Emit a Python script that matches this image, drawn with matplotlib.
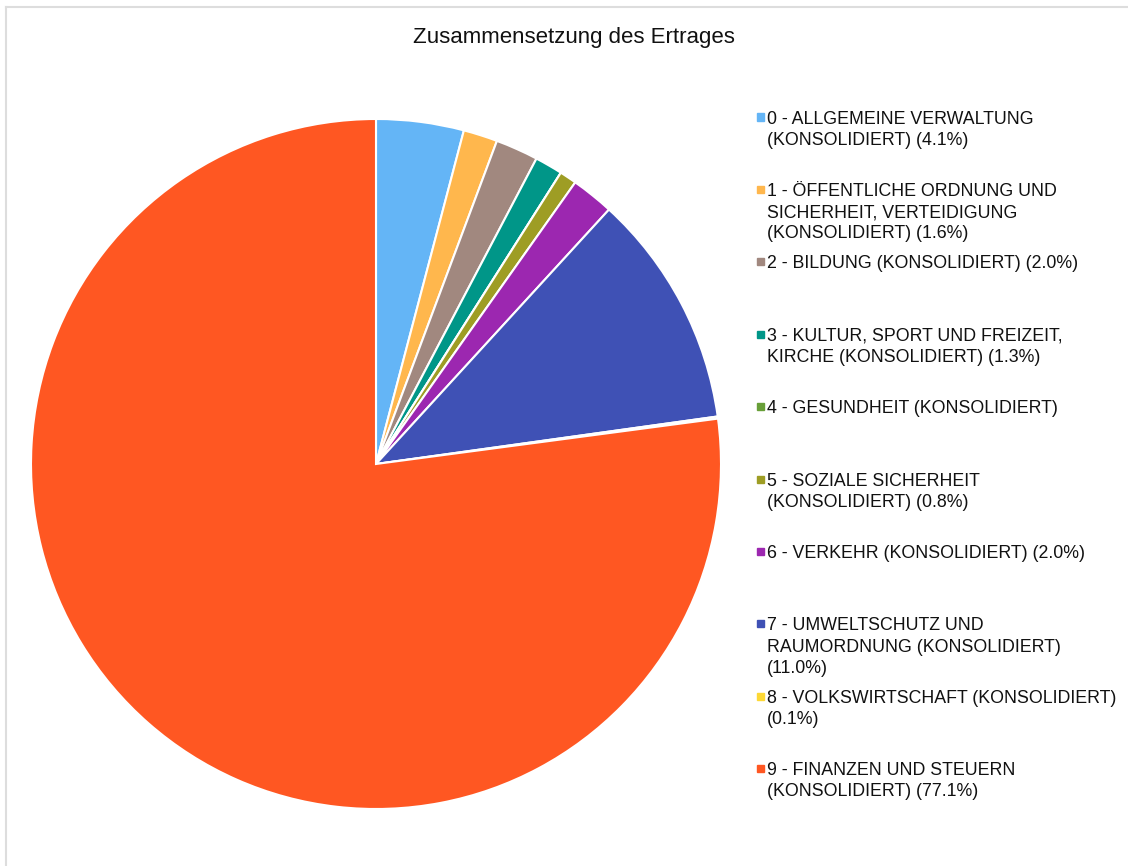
import matplotlib
matplotlib.use("Agg")
import matplotlib.pyplot as plt
from matplotlib.patches import Rectangle
from matplotlib.lines import Line2D

#----------------------------------------------------------------------
#                    Data
#----------------------------------------------------------------------
labels = ["0 - ALLGEMEINE VERWALTUNG\n(KONSOLIDIERT) (4.1%)",
          "1 - ÖFFENTLICHE ORDNUNG UND\nSICHERHEIT, VERTEIDIGUNG\n(KONSOLIDIERT) (1.6%)",
          "2 - BILDUNG (KONSOLIDIERT) (2.0%)",
          "3 - KULTUR, SPORT UND FREIZEIT,\nKIRCHE (KONSOLIDIERT) (1.3%)",
          "4 - GESUNDHEIT (KONSOLIDIERT)",
          "5 - SOZIALE SICHERHEIT\n(KONSOLIDIERT) (0.8%)",
          "6 - VERKEHR (KONSOLIDIERT) (2.0%)",
          "7 - UMWELTSCHUTZ UND\nRAUMORDNUNG (KONSOLIDIERT)\n(11.0%)",
          "8 - VOLKSWIRTSCHAFT (KONSOLIDIERT)\n(0.1%)",
          "9 - FINANZEN UND STEUERN\n(KONSOLIDIERT) (77.1%)"]
values = [4.1, 1.6, 2.0, 1.3, 0.0, 0.8, 2.0, 11.0, 0.1, 77.1]
colors = ["#64B5F6", "#FFB74D", "#A1887F", "#009688", "#689F38",
          "#9E9D24", "#9C27B0", "#3F51B5", "#FDD835", "#FF5722"]

plt.rcParams['font.family'] = ['Liberation Sans', 'DejaVu Sans']

W, H = 1128, 866
fig = plt.figure(figsize=(W / 100, H / 100), dpi=100)

# light frame (top + left visible)
fig.add_artist(Line2D([6 / W, 1], [1 - 7 / H, 1 - 7 / H], color="#dddddd", lw=1.5))
fig.add_artist(Line2D([6 / W, 6 / W], [0, 1 - 7 / H], color="#dddddd", lw=1.5))

#----------------------------------------------------------------------
#                    Pie
#----------------------------------------------------------------------
cx, cy, r = 376, 464, 345
ax = fig.add_axes([(cx - r) / W, (H - cy - r) / H, 2 * r / W, 2 * r / H])
ax.pie(values, colors=colors, startangle=90, counterclock=False,
       wedgeprops=dict(edgecolor="white", linewidth=1.5))
ax.set_xlim(-1, 1)
ax.set_ylim(-1, 1)
ax.set_aspect("equal")
ax.axis("off")

fig.text(574 / W, 1 - 38 / H, "Zusammensetzung des Ertrages",
         ha="center", va="center", fontsize=16, color="#111111")

#----------------------------------------------------------------------
#                    Legend
#----------------------------------------------------------------------
y0, dy = 117, 72.4
for i, (lab, col) in enumerate(zip(labels, colors)):
    y = y0 + i * dy
    fig.add_artist(Rectangle((757 / W, 1 - (y + 3.5) / H), 7 / W, 7 / H,
                             transform=fig.transFigure, color=col))
    fig.text(767 / W, 1 - (y - 6.5) / H, lab, ha="left", va="top",
             fontsize=12.8, color="#111111", linespacing=1.33)

fig.savefig("out.png", dpi=100, facecolor="white")
